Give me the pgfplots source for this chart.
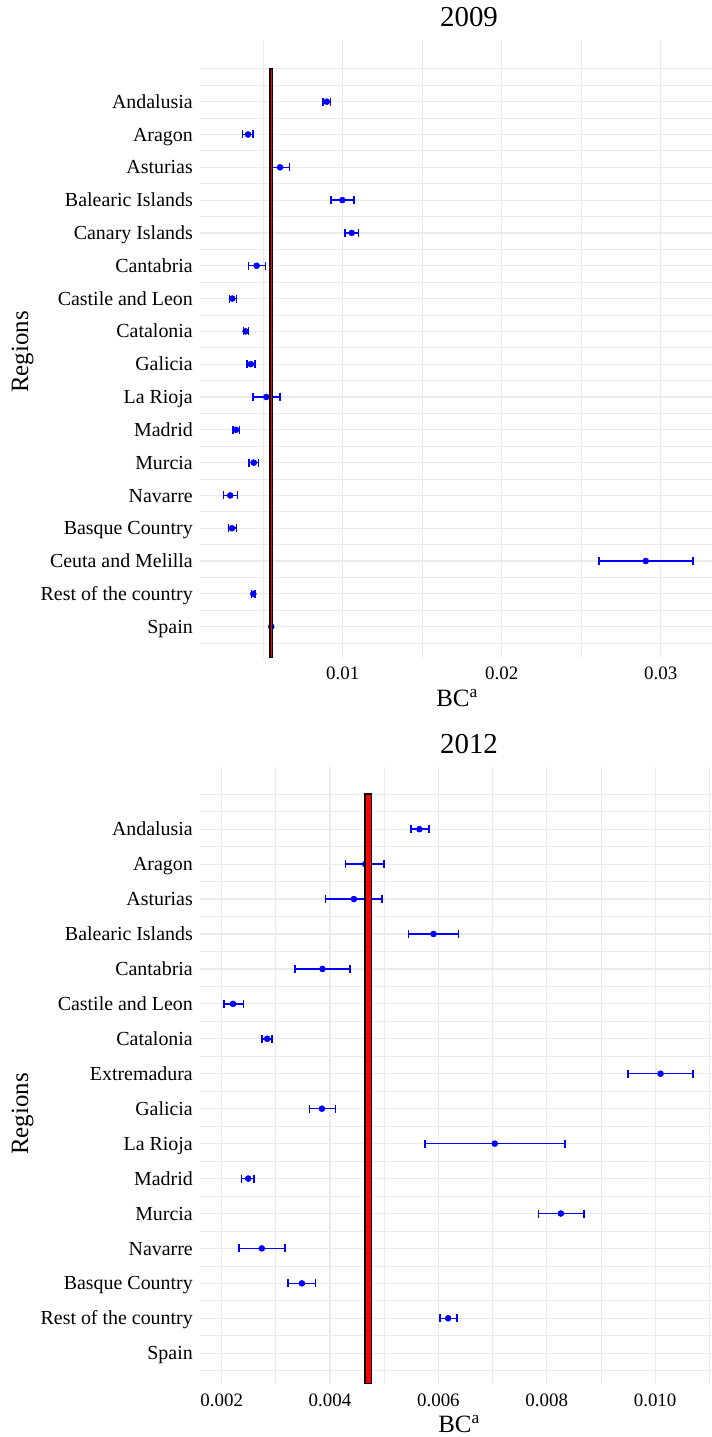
\documentclass[border=0pt]{standalone}
\usepackage{fontspec}
\setmainfont{Liberation Serif}
\usepackage{pgfplots}
\pgfplotsset{compat=1.18}
\usepackage{pgfplotstable}
\definecolor{gridc}{RGB}{235,235,235}
\definecolor{ptblue}{RGB}{0,0,255}

% 2009: y index (Andalusia=17 ... Spain=1), estimate, lower, upper
\pgfplotstableread{
y x lo hi
17 0.00899 0.00877 0.00923
16 0.00404 0.00370 0.00435
15 0.00605 0.00550 0.00666
14 0.00997 0.00926 0.01072
13 0.01056 0.01014 0.01100
12 0.00458 0.00406 0.00515
11 0.00305 0.00286 0.00330
10 0.00389 0.00374 0.00408
9 0.00421 0.00397 0.00448
8 0.00519 0.00435 0.00605
7 0.00328 0.00309 0.00349
6 0.00440 0.00410 0.00471
5 0.00292 0.00251 0.00339
4 0.00303 0.00282 0.00330
3 0.02905 0.02611 0.03203
2 0.00437 0.00427 0.00447
1 0.00550 0.00546 0.00554
}\dataA

% 2012: y index (Andalusia=16 ... Spain=1)
\pgfplotstableread{
y x lo hi
16 0.00565 0.00549 0.00583
15 0.00465 0.00429 0.00500
14 0.00444 0.00392 0.00496
13 0.00591 0.00545 0.00637
12 0.00386 0.00335 0.00437
11 0.00221 0.00204 0.00240
10 0.00284 0.00274 0.00293
9 0.01010 0.00950 0.01070
8 0.00385 0.00362 0.00410
7 0.00704 0.00575 0.00834
6 0.00249 0.00237 0.00260
5 0.00826 0.00785 0.00869
4 0.00274 0.00232 0.00317
3 0.00348 0.00322 0.00373
2 0.00618 0.00603 0.00634
1 0.00471 0.00468 0.00474
}\dataB

\pgfplotsset{
  panel/.style={
    scale only axis, width=512bp, clip mode=individual,
    axis line style={draw=none}, major tick length=0pt, minor tick length=0pt,
    tick style={draw=none},
    grid=both,
    major grid style={gridc, line width=1.2bp},
    minor grid style={gridc, line width=0.8bp},
    xticklabel style={font=\fontsize{19}{20}\selectfont, anchor=base, inner sep=0pt, yshift=-22bp},
    yticklabel style={font=\fontsize{20}{21}\selectfont, anchor=base east, inner sep=0pt, xshift=-7bp, yshift=-6.6bp},
    scaled x ticks=false,
  },
  errs/.style={only marks, mark=*, mark size=3bp, color=ptblue, draw=ptblue,
    mark options={fill=ptblue, draw=ptblue, line width=0.5bp},
    error bars/x dir=both, error bars/x explicit,
    error bars/error mark=|,
    error bars/error bar style={draw=ptblue, line width=1.5bp},
    error bars/error mark options={draw=ptblue, color=ptblue, mark size=4bp, line width=1.5bp}},
}

\begin{document}
\begin{tikzpicture}
\useasboundingbox (0,0) rectangle (712bp,1437bp);

\begin{axis}[panel, at={(200bp,779bp)}, anchor=south west, height=618bp,
  xmin=0.001019, xmax=0.03322, ymin=0.046, ymax=18.88,
  xtick={0.01,0.02,0.03}, xticklabels={0.01,0.02,0.03},
  minor xtick={0.005,0.015,0.025},
  ytick={1,...,18},
  yticklabels={Spain,Rest of the country,Ceuta and Melilla,Basque Country,Navarre,Murcia,Madrid,La Rioja,Galicia,Catalonia,Castile and Leon,Cantabria,Canary Islands,Balearic Islands,Asturias,Aragon,Andalusia,{}},
  minor ytick={0.5,1.5,...,17.5}]
\addplot[errs] table[x=x, y=y, x error plus expr=\thisrow{hi}-\thisrow{x}, x error minus expr=\thisrow{x}-\thisrow{lo}] {\dataA};
\addplot[fill=red, draw=black, line width=1.5bp] coordinates {(0.00542,0.046) (0.00558,0.046) (0.00558,18) (0.00542,18)} -- cycle;
\end{axis}
\node[anchor=base, font=\fontsize{29}{30}\selectfont] at (469bp,1410bp) {2009};
\node[anchor=base, font=\fontsize{25}{26}\selectfont] at (457bp,730bp) {BC\textsuperscript{a}};

\begin{axis}[panel, at={(200bp,53bp)}, anchor=south west, height=617bp,
  xmin=0.0016, xmax=0.01105, ymin=0.12, ymax=17.78,
  xtick={0.002,0.004,0.006,0.008,0.010}, xticklabels={0.002,0.004,0.006,0.008,0.010},
  minor xtick={0.003,0.005,0.007,0.009,0.011},
  ytick={1,...,17},
  yticklabels={Spain,Rest of the country,Basque Country,Navarre,Murcia,Madrid,La Rioja,Galicia,Extremadura,Catalonia,Castile and Leon,Cantabria,Balearic Islands,Asturias,Aragon,Andalusia,{}},
  minor ytick={0.5,1.5,...,16.5}]
\addplot[errs] table[x=x, y=y, x error plus expr=\thisrow{hi}-\thisrow{x}, x error minus expr=\thisrow{x}-\thisrow{lo}] {\dataB};
\addplot[fill=red, draw=black, line width=1.5bp] coordinates {(0.004646,0.12) (0.004769,0.12) (0.004769,17) (0.004646,17)} -- cycle;
\end{axis}
\node[anchor=base, font=\fontsize{29}{30}\selectfont] at (469bp,683bp) {2012};
\node[anchor=base, font=\fontsize{25}{26}\selectfont] at (459bp,5bp) {BC\textsuperscript{a}};

\node[rotate=90, anchor=base, font=\fontsize{25}{26}\selectfont] at (28bp,1085bp) {Regions};
\node[rotate=90, anchor=base, font=\fontsize{25}{26}\selectfont] at (28bp,323bp) {Regions};
\end{tikzpicture}
\end{document}
